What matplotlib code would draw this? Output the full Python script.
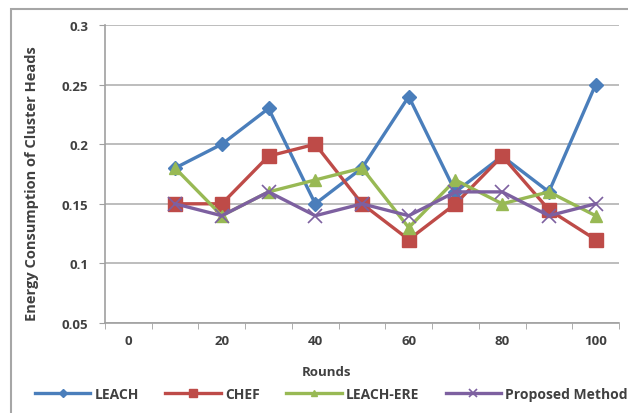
import matplotlib
matplotlib.use('Agg')
import matplotlib.pyplot as plt
from matplotlib.patches import Rectangle

plt.rcParams['font.family'] = ['Open Sans', 'DejaVu Sans']

# categories 0..100, no data at round 0
rounds = ['0', '10', '20', '30', '40', '50', '60', '70', '80', '90', '100']
data_rounds = ['10', '20', '30', '40', '50', '60', '70', '80', '90', '100']

leach = [0.18, 0.20, 0.23, 0.15, 0.18, 0.24, 0.16, 0.19, 0.16, 0.25]
chef = [0.15, 0.15, 0.19, 0.20, 0.15, 0.12, 0.15, 0.19, 0.145, 0.12]
leach_ere = [0.18, 0.14, 0.16, 0.17, 0.18, 0.13, 0.17, 0.15, 0.16, 0.14]
proposed = [0.15, 0.14, 0.16, 0.14, 0.15, 0.14, 0.16, 0.16, 0.14, 0.15]

fig = plt.figure(figsize=(6.28, 4.14), dpi=100)
ax = fig.add_axes([105/628, 1 - 324/414, (619 - 105)/628, (324 - 26)/414])

# chart area border (Excel style)
fig.patches.append(Rectangle((11/628, -0.1), 1.2, 1.1 - 10/414, transform=fig.transFigure,
                             fill=False, edgecolor='#a6a6a6', linewidth=1.5))

xpos = [rounds.index(r) for r in data_rounds]

ax.plot(xpos, leach, color='#4A7EBB', lw=2.4, marker='D', ms=7, label='LEACH')
ax.plot(xpos, chef, color='#BE4B48', lw=2.4, marker='s', ms=10, label='CHEF')
ax.plot(xpos, leach_ere, color='#98B954', lw=2.4, marker='^', ms=9, label='LEACH-ERE')
ax.plot(xpos, proposed, color='#7D60A0', lw=2.4, marker='x', ms=10, mew=1.2, label='Proposed Method')

ax.set_xlim(-0.5, len(rounds) - 0.5)
ax.set_ylim(0.05, 0.3)
ax.set_yticks([0.05, 0.1, 0.15, 0.2, 0.25, 0.3])
ax.set_yticklabels(['0.05', '0.1', '0.15', '0.2', '0.25', '0.3'])
ax.yaxis.grid(True, color='#b8b8b8', lw=1.3)
ax.set_axisbelow(True)

lab_pos = list(range(0, len(rounds), 2))
ax.set_xticks(lab_pos)
ax.set_xticklabels([rounds[i] for i in lab_pos])
ax.set_xticks([i - 0.5 for i in range(len(rounds) + 1)], minor=True)
ax.tick_params(axis='x', which='major', length=0, pad=8)
ax.tick_params(axis='x', which='minor', length=4, color='#a0a0a0')
ax.tick_params(axis='y', length=4, color='#a0a0a0', pad=8)

for t in ax.get_xticklabels() + ax.get_yticklabels():
    t.set_fontsize(9.5)
    t.set_fontweight('bold')
    t.set_color('#404040')

for s in ['top', 'right']:
    ax.spines[s].set_visible(False)
for s in ['left', 'bottom']:
    ax.spines[s].set_color('#a0a0a0')
    ax.spines[s].set_linewidth(1.2)

ax.set_xlabel('Rounds', fontsize=9.5, fontweight='bold', color='#404040')
ax.set_ylabel('Energy Consumption of Cluster Heads', fontsize=10.5, fontweight='bold',
              color='#404040')
ax.xaxis.set_label_coords(0.43, -0.14)
ax.yaxis.set_label_coords(-0.128, 0.47)

leg = fig.legend(loc='center left', bbox_to_anchor=(25/628, 1 - 395/414), ncol=4,
                 frameon=False, handlelength=4.0, handletextpad=0.3, columnspacing=1.9,
                 prop={'size': 10, 'weight': 'bold'}, markerscale=0.55,
                 borderpad=0.2)
for t in leg.get_texts():
    t.set_color('#404040')

fig.savefig('out.png', dpi=100)
